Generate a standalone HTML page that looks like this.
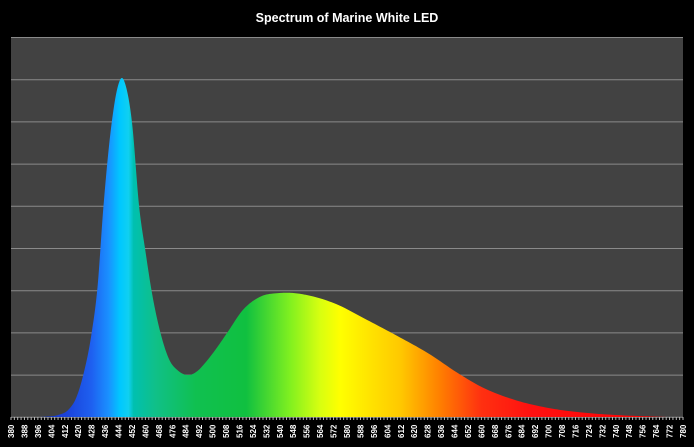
<!DOCTYPE html>
<html><head><meta charset="utf-8"><style>
html,body{margin:0;padding:0;background:#000;width:694px;height:447px;overflow:hidden}
svg{display:block}
</style></head><body>
<svg id="s" width="694" height="447" xmlns="http://www.w3.org/2000/svg">
<defs>
<linearGradient id="g" gradientUnits="userSpaceOnUse" x1="11" y1="0" x2="683" y2="0">
</linearGradient>
</defs>
<rect x="0" y="0" width="694" height="447" fill="#000"/>
<rect x="11" y="37" width="672" height="380" fill="#424242"/>
<g id="grid" stroke="#8a8a8a" stroke-width="1"></g>
<path id="curve" fill="url(#g)" stroke="none"/>
<g id="ticks" stroke="#bbb" stroke-width="1"></g>
<g id="labels" fill="#fff" font-family="Liberation Sans, sans-serif" font-size="8" font-weight="bold"></g>
<text x="347" y="22" fill="#fff" text-anchor="middle" font-family="Liberation Sans, sans-serif" font-size="12.5" font-weight="bold">Spectrum of Marine White LED</text>
</svg>
<script>
var NS="http://www.w3.org/2000/svg";
function X(nm){return 11+(nm-380)*1.68;}
var g=document.getElementById('grid');
for(var i=0;i<10;i++){var y=37.5+i*42.2;var l=document.createElementNS(NS,'line');l.setAttribute('x1',11);l.setAttribute('x2',683);l.setAttribute('y1',y.toFixed(1));l.setAttribute('y2',y.toFixed(1));g.appendChild(l);}
var P=[[380,0],[400,0.3],[408,2],[414,7],[419,20],[423,42],[428,84],[431.5,130],[435,210],[440,295],[443.5,330],[446,339],[448.5,330],[452,295],[456.3,210],[460,166],[463.7,126],[469,84],[474.6,56],[479,47],[486,42],[491,46],[495.5,54],[502,68],[509,85],[518,107],[528,120],[540,124],[548,124],[556,122],[572,114],[592,97],[610,81],[629,63],[645,45],[659,31],[680,17],[700,9],[720,4.5],[740,2],[760,0.6],[772,0],[780,0]];
var n=P.length,xs=P.map(function(p){return p[0]}),ys=P.map(function(p){return p[1]});
var dl=[],m=[];
for(var i=0;i<n-1;i++)dl.push((ys[i+1]-ys[i])/(xs[i+1]-xs[i]));
m[0]=dl[0];m[n-1]=dl[n-2];
for(var i=1;i<n-1;i++){var h0=xs[i]-xs[i-1],h1=xs[i+1]-xs[i];m[i]=(dl[i-1]*h1+dl[i]*h0)/(h0+h1);}
var d="M11,417";
for(var i=0;i<n-1;i++){var h=xs[i+1]-xs[i];
 for(var s=0;s<12;s++){var t=s/12,t2=t*t,t3=t2*t;
  var y=(2*t3-3*t2+1)*ys[i]+(t3-2*t2+t)*h*m[i]+(-2*t3+3*t2)*ys[i+1]+(t3-t2)*h*m[i+1];
  d+=" L"+X(xs[i]+t*h).toFixed(2)+","+(417-Math.max(0,y)).toFixed(2);}}
d+=" L683,417 Z";
document.getElementById('curve').setAttribute('d',d);
var stops=[[380,'#1030c0'],[412,'#1a40d8'],[428,'#1e60f0'],[438,'#1a90ff'],[445,'#00c8ff'],[450,'#10d0f0'],[453,'#00c0b0'],[466,'#10c088'],[490,'#10c050'],[520,'#10c040'],[546,'#80f020'],[564,'#d8ff10'],[576,'#ffff00'],[596,'#ffe000'],[612,'#ffc800'],[635,'#ff8000'],[660,'#ff3010'],[690,'#ff1010'],[780,'#ff0000']];
var gr=document.getElementById('g');
stops.forEach(function(s){var st=document.createElementNS(NS,'stop');st.setAttribute('offset',((X(s[0])-11)/672).toFixed(4));st.setAttribute('stop-color',s[1]);gr.appendChild(st);});
var t=document.getElementById('ticks'),lb=document.getElementById('labels');
for(var k=0;k<=200;k++){var x=11+k*3.36;var l=document.createElementNS(NS,'line');l.setAttribute('x1',x);l.setAttribute('x2',x);l.setAttribute('y1',417);l.setAttribute('y2',420);t.appendChild(l);}
for(var k=0;k<=50;k++){var x=11+k*13.44;var tx=document.createElementNS(NS,'text');tx.setAttribute('transform','translate('+(x+3)+',438) rotate(-90)');tx.textContent=380+k*8;lb.appendChild(tx);}
</script>
</body></html>
